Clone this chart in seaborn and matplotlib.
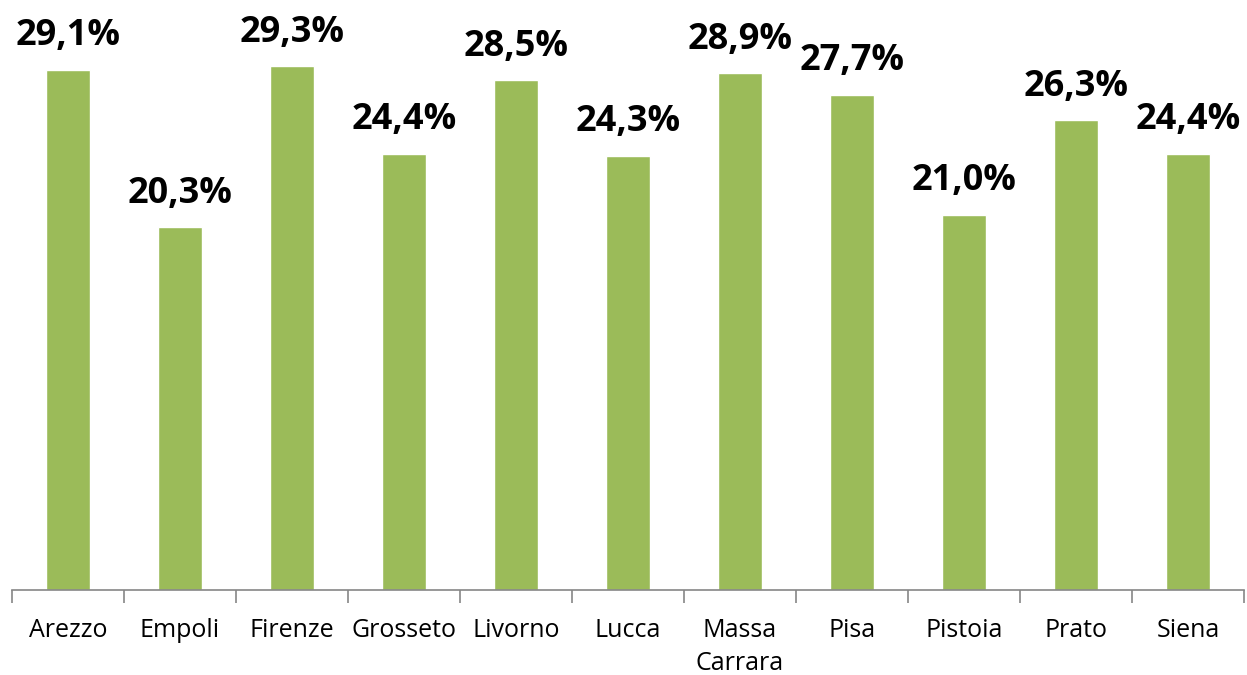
import numpy as np
import pandas as pd
import seaborn as sns
import matplotlib.pyplot as plt

# data
province = ["Arezzo", "Empoli", "Firenze", "Grosseto", "Livorno", "Lucca",
            "Massa\nCarrara", "Pisa", "Pistoia", "Prato", "Siena"]
quota = [29.1, 20.3, 29.3, 24.4, 28.5, 24.3, 28.9, 27.7, 21.0, 26.3, 24.4]

df = pd.DataFrame({"provincia": province, "quota": quota})

sns.set_style("white")
plt.rcParams['font.family'] = ['Open Sans', 'DejaVu Sans']
plt.rcParams['text.color'] = 'black'
plt.rcParams['xtick.color'] = 'black'

fig = plt.figure(figsize=(12.47, 6.75), dpi=100)
ax = fig.add_axes([12 / 1247, 85 / 675, 1232 / 1247, 590 / 675])

sns.barplot(data=df, x="provincia", y="quota", color="#9BBB59",
            saturation=1, width=0.4, ax=ax)

# value labels
for i, v in enumerate(quota):
    ax.annotate(f"{v:.1f}".replace(".", ",") + "%", (i, v),
                xytext=(0, 11), textcoords="offset points",
                ha="center", va="bottom", fontsize=26, fontweight="bold",
                color="black")

ax.set_ylim(0, 33)
ax.set_xlim(-0.5, len(province) - 0.5)
ax.set_xlabel("")
ax.set_ylabel("")
ax.set_yticks([])

# category ticks between bars
ax.set_xticks(np.arange(len(province)))
ax.set_xticklabels(province, fontsize=18, linespacing=1.45, color="black")
ax.set_xticks(np.arange(-0.5, len(province)), minor=True)
ax.tick_params(axis="x", which="major", length=0, pad=20)
ax.tick_params(axis="x", which="minor", length=9, width=1.2,
               color="#868686", bottom=True)

for s in ["top", "right", "left"]:
    ax.spines[s].set_visible(False)
ax.spines["bottom"].set_color("#868686")
ax.spines["bottom"].set_linewidth(1.2)

fig.savefig("out.png", dpi=100)
